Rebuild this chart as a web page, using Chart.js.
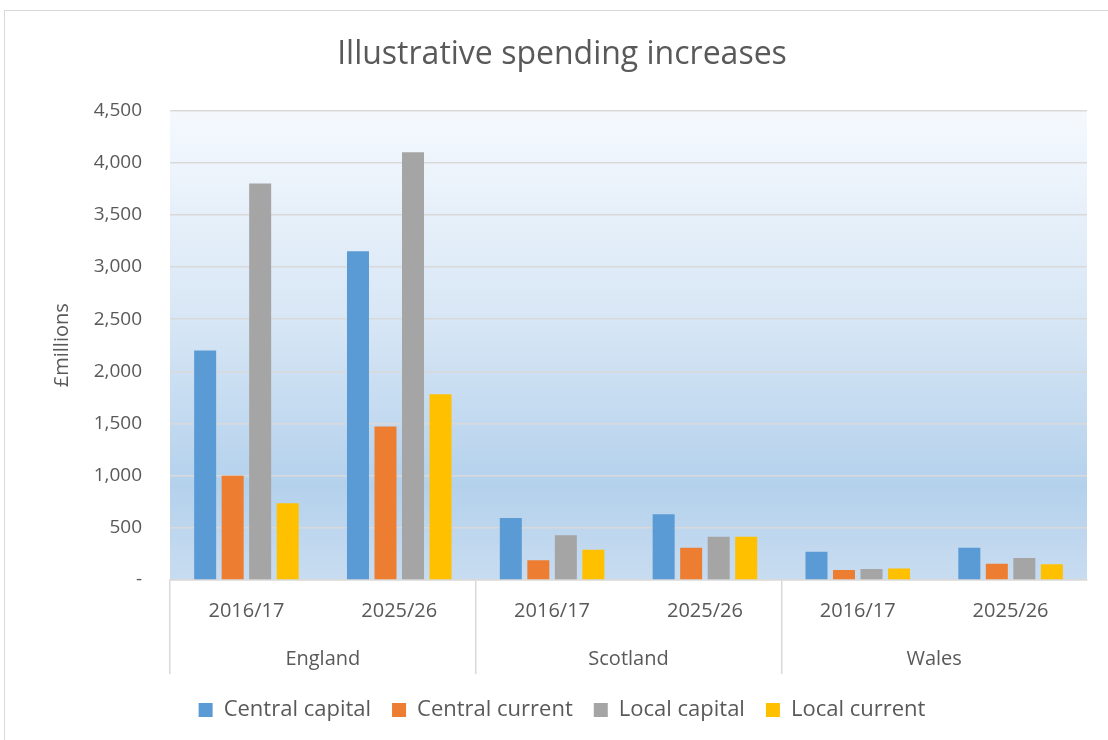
<!DOCTYPE html>
<html>
<head>
<meta charset="utf-8">
<script src="https://cdn.jsdelivr.net/npm/chart.js@4.4.1/dist/chart.umd.min.js"></script>
<style>
  html, body { margin: 0; padding: 0; background: #fff; overflow: hidden; }
  #frame { position: absolute; left: 4px; top: 10px; width: 1300px; height: 900px; border: 1px solid #d9d9d9; }
  #wrap { position: absolute; left: 0; top: 0; width: 1108px; height: 740px; }
</style>
</head>
<body>
<div id="frame"></div>
<div id="wrap"><canvas id="grafico"></canvas></div>
<script>
// dados (em £ milhões)
const years = ['2016/17', '2025/26', '2016/17', '2025/26', '2016/17', '2025/26'];
const countries = ['England', 'Scotland', 'Wales'];
const centralCapital = [2200, 3150, 595, 630, 270, 310];
const centralCurrent = [1000, 1470, 190, 310, 95, 155];
const localCapital = [3800, 4100, 430, 415, 105, 210];
const localCurrent = [735, 1780, 290, 415, 110, 150];
const yTicks = [0, 500, 1000, 1500, 2000, 2500, 3000, 3500, 4000, 4500];

const fonte = '"Open Sans", "Noto Sans", sans-serif';
const cinza = '#595959';
const linha = '#d9d9d9';

const fundoGradiente = {
    id: 'fundoGradiente',
    beforeDraw(chart) {
        const { ctx, chartArea: a } = chart;
        if (!a) return;
        const g = ctx.createLinearGradient(0, a.top, 0, a.bottom);
        g.addColorStop(0, '#f5f9fe');
        g.addColorStop(0.45, '#d7e6f5');
        g.addColorStop(0.8, '#b4d1ec');
        g.addColorStop(1, '#c8dcf0');
        ctx.save();
        ctx.fillStyle = g;
        ctx.fillRect(a.left, a.top, a.right - a.left, a.bottom - a.top);
        ctx.restore();
    }
};

const ctx = document.getElementById('grafico').getContext('2d');
new Chart(ctx, {
    type: 'bar',
    data: {
        labels: years,
        datasets: [
            { label: 'Central capital', data: centralCapital, backgroundColor: '#5b9bd5' },
            { label: 'Central current', data: centralCurrent, backgroundColor: '#ed7d31' },
            { label: 'Local capital', data: localCapital, backgroundColor: '#a5a5a5' },
            { label: 'Local current', data: localCurrent, backgroundColor: '#ffc000' }
        ]
    },
    options: {
        responsive: true,
        maintainAspectRatio: false,
        animation: false,
        categoryPercentage: 0.72,
        barPercentage: 0.8,
        layout: { padding: { left: 37, right: 21, top: 0, bottom: 9 } },
        scales: {
            x: {
                offset: true,
                grid: {
                    offset: true,
                    drawOnChartArea: false,
                    tickLength: 94,
                    lineWidth: 1.5,
                    color: c => (c.index % 2 === 0 ? linha : 'rgba(0,0,0,0)'),
                    tickColor: c => (c.index % 2 === 0 ? linha : 'rgba(0,0,0,0)')
                },
                border: { display: true, color: linha, width: 1.5 },
                ticks: {
                    color: cinza,
                    font: { family: fonte, size: 20 },
                    padding: -75,
                    maxRotation: 0,
                    autoSkip: false
                },
                afterFit: s => { s.height = 54; }
            },
            x2: {
                type: 'category',
                axis: 'x',
                position: 'bottom',
                labels: countries,
                offset: true,
                grid: { display: false },
                border: { display: false },
                ticks: {
                    color: cinza,
                    font: { family: fonte, size: 20 },
                    padding: 5,
                    maxRotation: 0,
                    autoSkip: false
                },
                afterFit: s => { s.height = 44; }
            },
            y: {
                min: 0,
                max: 4500,
                afterBuildTicks: s => { s.ticks = yTicks.map(v => ({ value: v })); },
                grid: { color: linha, lineWidth: 1.5, drawTicks: false },
                border: { display: false },
                ticks: {
                    color: cinza,
                    font: { family: fonte, size: 19 },
                    padding: 28,
                    callback: v => (v === 0 ? '-' : v.toLocaleString('en-GB'))
                },
                title: {
                    display: true,
                    text: '£millions',
                    color: cinza,
                    font: { family: fonte, size: 20 },
                    padding: { top: 13, bottom: 0 }
                },
                afterFit: s => { s.width = 133; }
            }
        },
        plugins: {
            title: {
                display: true,
                text: 'Illustrative spending increases',
                color: cinza,
                font: { family: fonte, size: 32, weight: 'normal' },
                padding: { top: 36, bottom: 36 }
            },
            legend: {
                position: 'bottom',
                labels: {
                    color: cinza,
                    font: { family: fonte, size: 22 },
                    boxWidth: 14,
                    boxHeight: 14,
                    padding: 21
                }
            },
            tooltip: { enabled: false }
        }
    },
    plugins: [fundoGradiente]
});
</script>
</body>
</html>
